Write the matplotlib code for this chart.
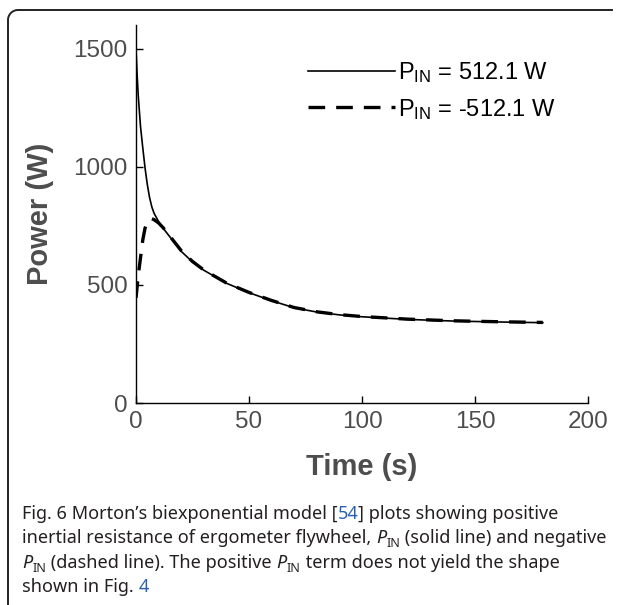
import matplotlib
matplotlib.use("Agg")
import matplotlib.pyplot as plt
from matplotlib.lines import Line2D
import numpy as np

W, H = 619, 605

# data
t_pos = [0, 0.5, 1, 2, 3, 4, 5, 6, 7, 8, 10, 12, 15, 20, 25, 30, 40, 50, 60, 70, 80, 90, 100, 120, 140, 160, 180]
p_pos = [1500, 1390, 1300, 1170, 1080, 995, 925, 870, 830, 803, 768, 740, 703, 642, 597, 562, 507, 467, 433, 403, 385, 373, 365, 354, 347, 343, 340]

t_neg = [0, 1, 2, 3, 4, 5, 6, 7, 8, 10, 12, 15, 20, 25, 30, 40, 50, 60, 70, 80, 90, 100, 120, 140, 160, 180]
p_neg = [445, 540, 615, 690, 740, 768, 778, 780, 776, 762, 742, 706, 645, 599, 563, 508, 468, 434, 404, 386, 374, 366, 355, 348, 344, 341]

xticks = [0, 50, 100, 150, 200]
yticks = [0, 500, 1000, 1500]

plt.rcParams['font.family'] = ['Liberation Sans', 'DejaVu Sans']
plt.rcParams['mathtext.fontset'] = 'custom'
plt.rcParams['mathtext.rm'] = 'Liberation Sans'
plt.rcParams['mathtext.it'] = 'Liberation Sans:italic'

fig = plt.figure(figsize=(W / 100, H / 100), dpi=100)

def fx(px):
    return px / W

def fy(py):
    return 1 - py / H

# frame: left edge, rounded top-left corner, top edge towards the right side
a = np.linspace(np.pi, np.pi / 2, 12)
rad = 10
fxs = [8, 8] + list(18 + rad * np.cos(a)) + [612]
fys = [604, 20] + list(20 - rad * np.sin(a)) + [10]
fig.add_artist(Line2D([fx(v) for v in fxs], [fy(v) for v in fys], transform=fig.transFigure,
                      color='#222222', lw=1.4))

ax = fig.add_axes([fx(136), fy(403), fx(588) - fx(136), fy(25) - fy(403)])
ax.plot(t_pos, p_pos, color='black', lw=1.2, label=r'P$_{\mathrm{IN}}$ = 512.1 W')
ax.plot(t_neg, p_neg, color='black', lw=2.4, dashes=(5, 3.3), label=r'P$_{\mathrm{IN}}$ = -512.1 W')

ax.set_xlim(0, 200)
ax.set_ylim(0, 1600)
ax.set_xticks(xticks)
ax.set_yticks(yticks)
ax.spines['top'].set_visible(False)
ax.spines['right'].set_visible(False)
for s in ('left', 'bottom'):
    ax.spines[s].set_linewidth(1.0)
ax.tick_params(direction='in', length=5, width=1.0, labelsize=17.5,
               labelcolor='#4d4d4d', pad=6)
ax.set_xlabel('Time (s)', fontsize=21, fontweight='bold', color='#4d4d4d', labelpad=14)
ax.set_ylabel('Power (W)', fontsize=21, fontweight='bold', color='#4d4d4d', labelpad=14)

ax.legend(loc='upper left', bbox_to_anchor=(fx(308), fy(60)), bbox_transform=fig.transFigure,
          frameon=False, fontsize=17, handlelength=3.7, handletextpad=0.1,
          labelspacing=0.5, borderpad=0, borderaxespad=0)

# caption
r = fig.canvas.get_renderer()
txt = dict(family=['Noto Sans', 'DejaVu Sans'], fontsize=13, color='#231f20')
blue = '#2b5fb4'

def run(x, y, parts):
    for s, kw in parts:
        if kw == 'sub':
            t = fig.text(fx(x), fy(y + 4), s, va='baseline', **{**txt, 'fontsize': 9})
        else:
            t = fig.text(fx(x), fy(y), s, va='baseline', **{**txt, **kw})
        x += t.get_window_extent(r).width

base = 519
step = 24.3
run(22, base, [("Fig. 6", {'fontweight': 'bold'}),
               (" Morton\u2019s biexponential model [", {}),
               ("54", {'color': blue}),
               ("] plots showing positive", {})])
run(22, base + step, [("inertial resistance of ergometer flywheel, ", {}),
                      ("P", {'style': 'italic'}), ("IN", 'sub'),
                      (" (solid line) and negative", {})])
run(22, base + 2 * step, [("P", {'style': 'italic'}), ("IN", 'sub'),
                          (" (dashed line). The positive ", {}),
                          ("P", {'style': 'italic'}), ("IN", 'sub'),
                          (" term does not yield the shape", {})])
run(22, base + 3 * step, [("shown in Fig. ", {}), ("4", {'color': blue})])

fig.savefig('out.png', dpi=100)
